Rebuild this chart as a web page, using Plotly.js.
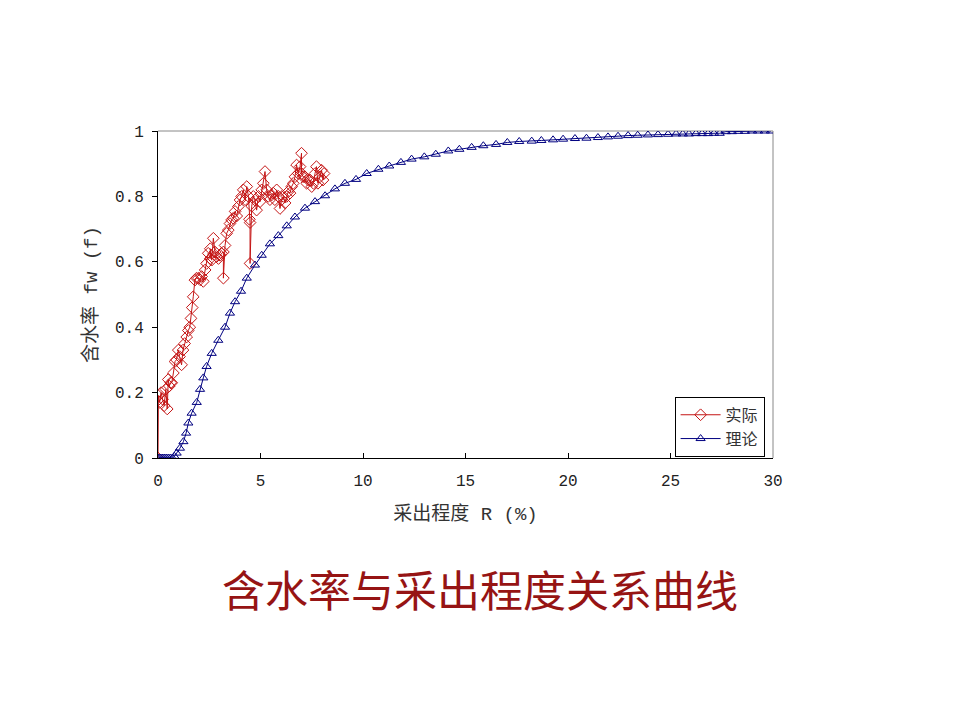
<!DOCTYPE html>
<html>
<head>
<meta charset="utf-8">
<script src="https://cdn.plot.ly/plotly-3.0.1.min.js"></script>
<style>html,body{margin:0;padding:0;background:#fff;}#chart{width:960px;height:720px;}</style>
</head>
<body>
<div id="chart"></div>
<script>
// 实际 (actual) series
const actualR = [0, 0.02, 0.08, 0.15, 0.22, 0.3, 0.38, 0.45, 0.5, 0.55, 0.62, 0.67, 0.75, 0.83, 0.9, 0.99, 1.05, 1.15, 1.22, 1.3, 1.4, 1.48, 1.55, 1.61, 1.67, 1.72, 1.8, 1.88, 1.97, 2.05, 2.13, 2.21, 2.3, 2.37, 2.45, 2.55, 2.55, 2.62, 2.7, 2.78, 2.86, 2.95, 3.03, 3.1, 3.19, 3.19, 3.27, 3.35, 3.43, 3.51, 3.59, 3.67, 3.76, 3.84, 3.92, 4.0, 4.08, 4.16, 4.25, 4.33, 4.41, 4.46, 4.49, 4.49, 4.57, 4.65, 4.73, 4.81, 4.9, 4.98, 5.06, 5.14, 5.22, 5.3, 5.38, 5.46, 5.54, 5.62, 5.7, 5.79, 5.87, 5.95, 6.03, 6.11, 6.2, 6.28, 6.36, 6.44, 6.52, 6.6, 6.68, 6.76, 6.84, 6.93, 7.0, 7.0, 7.08, 7.17, 7.25, 7.33, 7.41, 7.5, 7.58, 7.66, 7.73, 7.8, 7.9, 7.98, 8.05, 8.1];
const actualFw = [0.0, 0.19, 0.17, 0.2, 0.18, 0.16, 0.21, 0.15, 0.24, 0.22, 0.23, 0.23, 0.26, 0.295, 0.3, 0.33, 0.31, 0.285, 0.33, 0.35, 0.37, 0.39, 0.40, 0.427, 0.46, 0.493, 0.544, 0.55, 0.55, 0.545, 0.555, 0.54, 0.575, 0.595, 0.626, 0.61, 0.64, 0.605, 0.672, 0.63, 0.616, 0.61, 0.62, 0.626, 0.63, 0.55, 0.65, 0.687, 0.697, 0.717, 0.728, 0.733, 0.754, 0.74, 0.769, 0.789, 0.8, 0.82, 0.79, 0.83, 0.8, 0.73, 0.72, 0.595, 0.77, 0.8, 0.789, 0.758, 0.8, 0.784, 0.82, 0.84, 0.876, 0.82, 0.8, 0.79, 0.804, 0.81, 0.79, 0.82, 0.8, 0.763, 0.79, 0.8, 0.78, 0.8, 0.815, 0.81, 0.83, 0.84, 0.86, 0.896, 0.87, 0.891, 0.932, 0.87, 0.86, 0.86, 0.84, 0.85, 0.85, 0.83, 0.84, 0.87, 0.891, 0.84, 0.86, 0.88, 0.85, 0.87];

// 理论 (theory) series
const theoryR = [0, 0.1, 0.2, 0.3, 0.4, 0.5, 0.6, 0.7, 0.8, 0.91, 1.07, 1.24, 1.37, 1.48, 1.64, 1.89, 2.05, 2.21, 2.37, 2.62, 2.94, 3.27, 3.51, 3.76, 4.05, 4.33, 4.73, 5.06, 5.46, 5.87, 6.28, 6.68, 7.17, 7.66, 8.15, 8.63, 9.12, 9.66, 10.18, 10.75, 11.28, 11.85, 12.37, 12.99, 13.55, 14.16, 14.7, 15.3, 15.87, 16.49, 17.04, 17.62, 18.23, 18.7, 19.27, 19.76, 20.34, 20.9, 21.46, 21.95, 22.44, 22.93, 23.4, 23.9, 24.39, 24.88, 25.27, 25.6, 25.9, 26.24, 26.54, 26.83, 27.12, 27.4, 27.7, 28.0, 28.3, 28.63, 28.98, 29.27, 29.6, 29.9];
const theoryFw = [0, 0, 0, 0, 0, 0, 0, 0, 0.005, 0.015, 0.03, 0.05, 0.076, 0.107, 0.137, 0.17, 0.21, 0.245, 0.28, 0.32, 0.36, 0.40, 0.443, 0.478, 0.51, 0.55, 0.59, 0.62, 0.655, 0.68, 0.71, 0.737, 0.764, 0.784, 0.802, 0.823, 0.84, 0.852, 0.87, 0.883, 0.893, 0.904, 0.914, 0.921, 0.929, 0.939, 0.944, 0.95, 0.955, 0.959, 0.965, 0.968, 0.969, 0.971, 0.973, 0.975, 0.977, 0.978, 0.98, 0.982, 0.984, 0.986, 0.987, 0.988, 0.989, 0.99, 0.991, 0.991, 0.991, 0.992, 0.992, 0.992, 0.993, 0.993, 0.998, 0.998, 0.999, 0.999, 1.0, 1.0, 1.0, 1.0];

const xTicks = [0, 5, 10, 15, 20, 25, 30];
const yTicks = [0, 0.2, 0.4, 0.6, 0.8, 1];
const yTickText = ['0', '0.2', '0.4', '0.6', '0.8', '1'];

const cjk = '"Noto Sans CJK SC", "Noto Sans", sans-serif';
const mono = '"Liberation Mono", "DejaVu Sans Mono", monospace';
const monoCjk = '"Liberation Mono", "Noto Sans CJK SC", monospace';

const traces = [
  {
    x: actualR, y: actualFw, name: '实际', type: 'scatter', mode: 'lines+markers',
    line: {color: '#c41414', width: 1},
    marker: {symbol: 'diamond-open', size: 9, color: '#c41414', line: {width: 1}}
  },
  {
    x: theoryR, y: theoryFw, name: '理论', type: 'scatter', mode: 'lines+markers',
    line: {color: '#000080', width: 1},
    marker: {symbol: 'triangle-up-open', size: 8, color: '#000080', line: {width: 1}}
  }
];

const layout = {
  width: 960, height: 720,
  paper_bgcolor: '#ffffff', plot_bgcolor: '#ffffff',
  margin: {l: 158, r: 187, t: 131, b: 262, pad: 0},
  showlegend: true,
  title: {
    text: '含水率与采出程度关系曲线',
    font: {family: cjk, size: 43, color: '#961414'},
    x: 0.5, xref: 'container', xanchor: 'center',
    y: 0.178, yref: 'container', yanchor: 'middle'
  },
  xaxis: {
    range: [0, 30], tickvals: xTicks, ticktext: xTicks.map(String),
    ticks: 'inside', ticklen: 5, tickcolor: '#000', tickwidth: 1,
    showline: true, linecolor: '#000', linewidth: 1,
    showgrid: false, zeroline: false,
    tickfont: {family: mono, size: 16, color: '#222'},
    ticklabelstandoff: 8,
    title: {text: '采出程度 R (%)', font: {family: monoCjk, size: 19, color: '#333'}, standoff: 16}
  },
  yaxis: {
    range: [0, 1], tickvals: yTicks, ticktext: yTickText,
    ticks: 'outside', ticklen: 5, tickcolor: '#000', tickwidth: 1,
    showline: true, linecolor: '#000', linewidth: 1,
    showgrid: false, zeroline: false,
    tickfont: {family: mono, size: 16, color: '#222'},
    ticklabelstandoff: 5,
    title: {text: '含水率 fw (f)', font: {family: monoCjk, size: 19, color: '#333'}, standoff: 12}
  },
  legend: {
    x: 0.84, y: 0.187, xanchor: 'left', yanchor: 'top',
    bgcolor: '#fff', bordercolor: '#000', borderwidth: 1,
    font: {family: cjk, size: 16, color: '#333'},
    itemwidth: 40, tracegroupgap: 0
  },
  shapes: [
    {type: 'line', xref: 'paper', yref: 'paper', x0: 0, x1: 1, y0: 1, y1: 1, line: {color: '#888', width: 1}, layer: 'below'},
    {type: 'line', xref: 'paper', yref: 'paper', x0: 1, x1: 1, y0: 0, y1: 1, line: {color: '#888', width: 1}, layer: 'below'}
  ]
};

Plotly.newPlot('chart', traces, layout, {displayModeBar: false, staticPlot: true});
</script>
</body>
</html>
